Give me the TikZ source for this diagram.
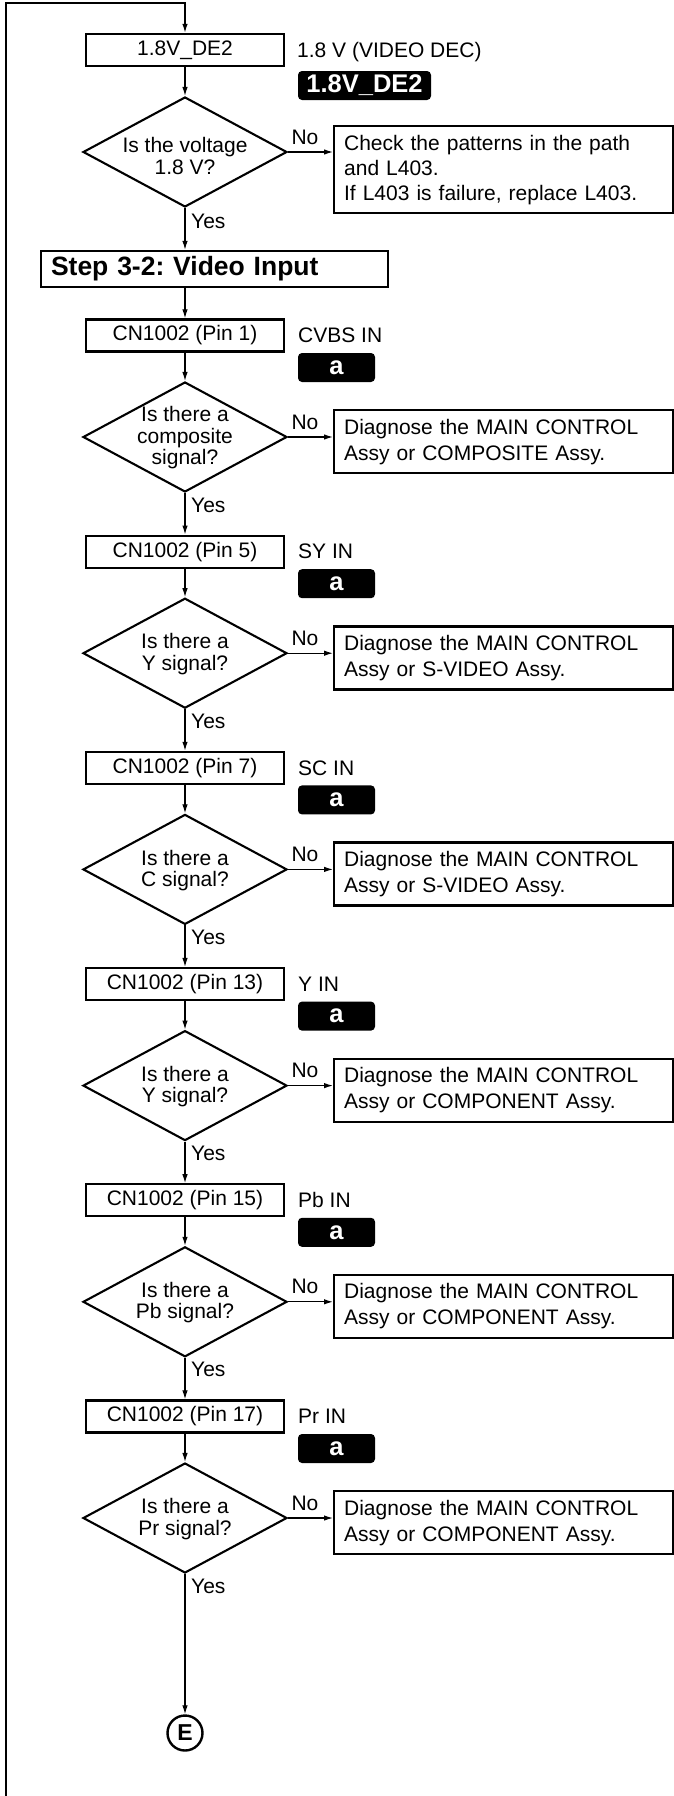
\documentclass[tikz,border=0pt]{standalone}
\usepackage{fontspec}
\setmainfont{Liberation Sans}
\usetikzlibrary{arrows.meta,shapes.geometric}
\frenchspacing
\begin{document}
\frenchspacing
\begin{tikzpicture}[x=1pt,y=-1pt,
  box/.style={draw, line width=2.3pt, minimum width=198pt, minimum height=32pt, inner sep=0pt, font=\fontsize{21}{25}\selectfont},
  dia/.style={draw, diamond, line width=2.1pt, minimum width=204pt, minimum height=110pt, inner sep=0pt},
  dtext/.style={align=center, font=\fontsize{21}{21.5}\selectfont, inner sep=0pt},
  msg/.style={draw, line width=2.3pt, text width=319pt, inner xsep=10pt, inner ysep=0pt, align=left, font=\fontsize{21}{26}\selectfont, anchor=north west},
  tag/.style={fill=black, rounded corners=4pt, text=white, font=\bfseries\fontsize{25.5}{25.5}\selectfont, inner sep=0pt, minimum height=29pt},
  conn/.style={line width=1.2pt, -{Latex[length=9pt,width=5.5pt]}},
  lbl/.style={font=\fontsize{21}{25}\selectfont, inner sep=0pt},
  stepbox/.style={draw, line width=2.3pt, minimum width=347pt, minimum height=36pt, text width=327pt, inner xsep=10pt, inner ysep=0pt, align=left, font=\bfseries\fontsize{26.5}{28}\selectfont}
]
\fill[white] (0,0) rectangle (673,1796);
\useasboundingbox (0,0) rectangle (673,1796);

% top section
\node[box] (b1) at (185,50) {1.8V\_DE2};
\node[lbl, anchor=west] (b1note) at (297,52) {1.8 V (VIDEO DEC)};
\node[tag, minimum width=133pt] (b1tag) at (364.5,85.5) {1.8V\_DE2};
\node[dia] (dv) at (185,152) {};
\node[dtext] (dvq) at (185,156) {Is the voltage\\1.8 V?};
\node[lbl] (dvno) at (305,137) {No};
\node[msg, minimum height=87pt, font=\fontsize{21}{25}\selectfont] (chk) at (333,125) {Check the patterns in the path\\and L403.\\If L403 is failure, replace L403.};
\node[lbl, anchor=west] (dvyes) at (191,221) {Yes};
\node[stepbox] (step) at (214.5,269) {Step 3-2: Video Input};

\coordinate (lb) at (6,1796);
\coordinate (lt) at (6,3);
\draw[conn, line width=1.4pt] (lb) -- (lt) -| (b1.north);
\draw[conn] (b1.south) -- (dv.north);
\draw[conn] (dv.east) -- (dv.east -| chk.west);
\draw[conn] (dv.south) -- (dv.south |- step.north);

\foreach \i/\pin/\sig/\q/\assy in {
  0/1/CVBS IN/composite\\signal?/COMPOSITE,
  1/5/SY IN/Y signal?/S-VIDEO,
  2/7/SC IN/C signal?/S-VIDEO,
  3/13/Y IN/Y signal?/COMPONENT,
  4/15/Pb IN/Pb signal?/COMPONENT,
  5/17/Pr IN/Pr signal?/COMPONENT}{
  \pgfmathsetmacro\T{319+216.2*\i}
  \node[box] (cn\i) at (185,\T+16.5) {CN1002 (Pin \pin)};
  \node[lbl, anchor=west] (in\i) at (298,\T+16.5) {\sig};
  \node[tag, minimum width=77pt] (a\i) at (336.5,\T+48.5) {a};
  \node[dia] (d\i) at (185,\T+118) {};
  \node[dtext] (q\i) at (185,\T+119) {Is there a\\\q};
  \node[lbl] (no\i) at (305,\T+103) {No};
  \node[msg, minimum height=63pt] (dg\i) at (333,\T+90) {Diagnose the MAIN CONTROL\\Assy or \assy{} Assy.};
  \node[lbl, anchor=west] (yes\i) at (191,\T+186) {Yes};
  \draw[conn] (cn\i.south) -- (d\i.north);
  \draw[conn] (d\i.east) -- (d\i.east -| dg\i.west);
}

\node[circle, draw, line width=2.4pt, minimum size=35pt, inner sep=0pt, font=\bfseries\fontsize{23}{23}\selectfont] (E) at (185,1733) {E};

\draw[conn] (step.south -| cn0.north) -- (cn0.north);
\foreach \i/\j in {0/1,1/2,2/3,3/4,4/5}{
  \draw[conn] (d\i.south) -- (cn\j.north);
}
\draw[conn] (d5.south) -- (E.north);
\end{tikzpicture}
\end{document}
